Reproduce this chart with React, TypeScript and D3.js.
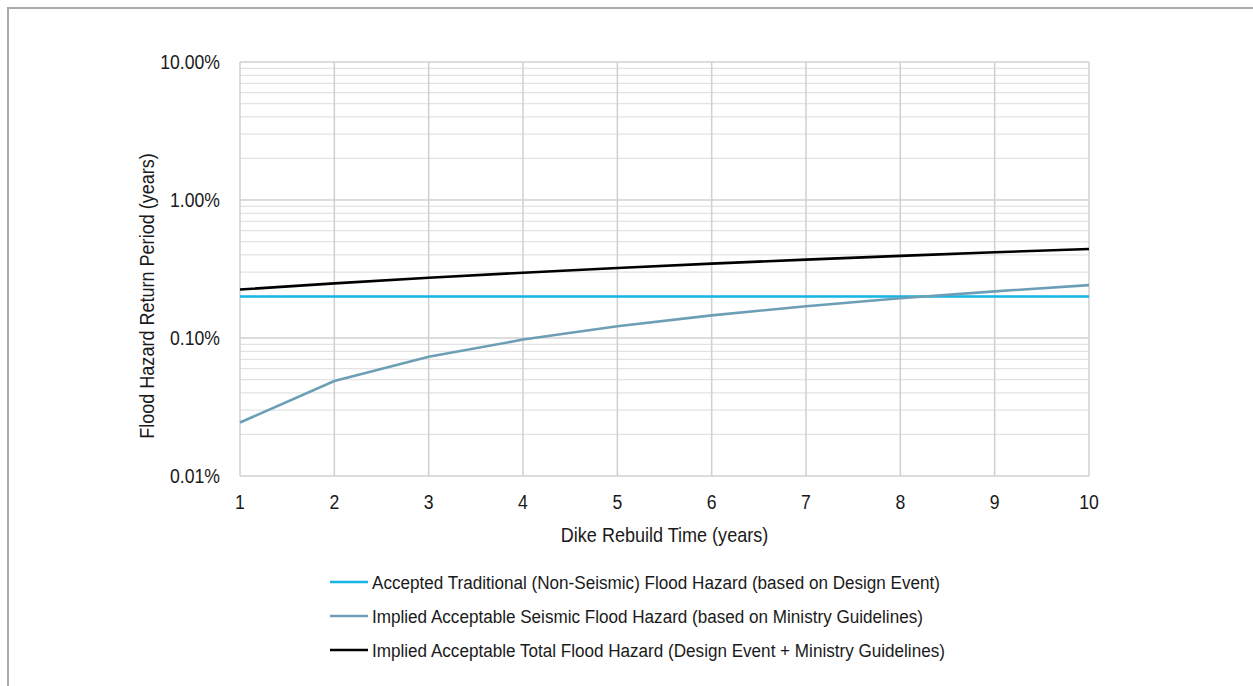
import React from 'react';
import * as d3 from 'd3';

// rebuild time (years)
const years = [1, 2, 3, 4, 5, 6, 7, 8, 9, 10];
// hazard values in percent
const traditional = [0.2, 0.2, 0.2, 0.2, 0.2, 0.2, 0.2, 0.2, 0.2, 0.2];
const seismic = [0.0244, 0.0488, 0.0731, 0.0974, 0.1217, 0.1458, 0.1699, 0.1939, 0.2178, 0.2417];
const total = [0.2244, 0.2488, 0.2731, 0.2974, 0.3217, 0.3458, 0.3699, 0.3939, 0.4178, 0.4417];
const yTicks = [0.01, 0.1, 1, 10];

const seriesList = [
  { name: 'Accepted Traditional (Non-Seismic) Flood Hazard (based on Design Event)', values: traditional, color: '#12b5e4' },
  { name: 'Implied Acceptable Seismic Flood Hazard (based on Ministry Guidelines)', values: seismic, color: '#6c9fb6' },
  { name: 'Implied Acceptable Total Flood Hazard (Design Event + Ministry Guidelines)', values: total, color: '#000000' },
];

const W = 1253;
const H = 686;
const plot = { left: 240, right: 1089, top: 62, bottom: 476 };
const font = '"Liberation Sans", Arial, sans-serif';
const textColor = '#1a1a1a';

// condensed-looking text: normal font squeezed horizontally
const Label = ({ x, y, size, sx, anchor = 'start', rotate = 0, children }: any) => (
  <text
    transform={`translate(${x},${y}) rotate(${rotate}) scale(${sx},1)`}
    dy="0.35em"
    textAnchor={anchor}
    fontFamily={font}
    fontSize={size}
    fill={textColor}
  >
    {children}
  </text>
);

export default function App() {
  const x = d3.scaleLinear().domain([1, 10]).range([plot.left, plot.right]);
  const y = d3.scaleLog().domain([0.01, 10]).range([plot.bottom, plot.top]);

  // minor gridlines 2..9 within each decade
  const minor: number[] = [];
  for (let d = 0.01; d < 10; d *= 10) {
    for (let k = 2; k <= 9; k++) minor.push(+(d * k).toPrecision(3));
  }

  const line = d3.line<number>()
    .x((_, i) => x(years[i]))
    .y(v => y(v));

  return (
    <svg width={W} height={H} style={{ position: 'absolute', left: 0, top: 0 }}>
      <rect x={0} y={0} width={W} height={H} fill="#fff" />
      {/* outer frame */}
      <path d={`M8,${H} L8,8 L${W},8`} fill="none" stroke="#a9a9ae" strokeWidth={2} />

      {/* minor horizontal grid */}
      {minor.map(v => (
        <line key={'m' + v} x1={plot.left} x2={plot.right} y1={y(v)} y2={y(v)} stroke="#e3e3e3" strokeWidth={1.2} />
      ))}
      {/* major horizontal grid */}
      {yTicks.map(v => (
        <line key={'M' + v} x1={plot.left} x2={plot.right} y1={y(v)} y2={y(v)} stroke="#d0d0d0" strokeWidth={1.5} />
      ))}
      {/* vertical grid */}
      {years.map(v => (
        <line key={'v' + v} x1={x(v)} x2={x(v)} y1={plot.top} y2={plot.bottom} stroke="#d0d0d0" strokeWidth={1.5} />
      ))}

      {/* series */}
      {seriesList.map(s => (
        <path key={s.name} d={line(s.values) || ''} fill="none" stroke={s.color} strokeWidth={2.6} />
      ))}

      {/* y tick labels */}
      {yTicks.map(v => (
        <Label key={'yt' + v} x={220} y={y(v)} size={20.5} sx={0.86} anchor="end">
          {d3.format('.2f')(v) + '%'}
        </Label>
      ))}
      {/* x tick labels */}
      {years.map(v => (
        <Label key={'xt' + v} x={x(v)} y={502} size={20.5} sx={0.86} anchor="middle">
          {v}
        </Label>
      ))}

      {/* axis titles */}
      <Label x={(plot.left + plot.right) / 2} y={535} size={20.5} sx={0.88} anchor="middle">
        Dike Rebuild Time (years)
      </Label>
      <Label x={147} y={296} size={20.5} sx={0.88} anchor="middle" rotate={-90}>
        Flood Hazard Return Period (years)
      </Label>

      {/* legend */}
      {seriesList.map((s, i) => {
        const ly = 582 + i * 34;
        return (
          <g key={'lg' + i}>
            <line x1={330} x2={368} y1={ly} y2={ly} stroke={s.color} strokeWidth={2.6} />
            <Label x={372} y={ly} size={19} sx={0.9}>
              {s.name}
            </Label>
          </g>
        );
      })}
    </svg>
  );
}
